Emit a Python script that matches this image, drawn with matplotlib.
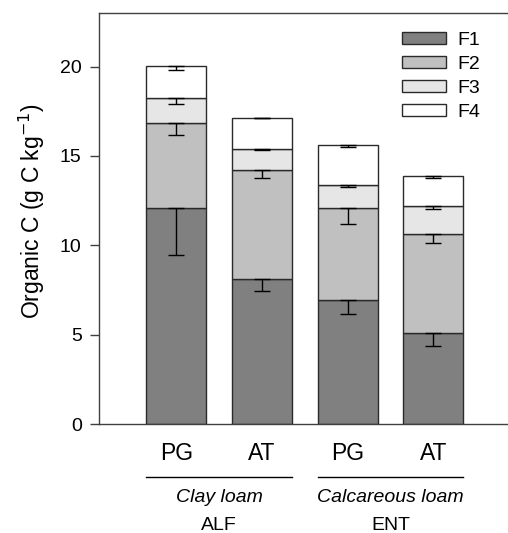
import numpy as np
import matplotlib.pyplot as plt
import matplotlib.transforms as mtransforms

plt.rcParams['font.family'] = ['Liberation Sans', 'DejaVu Sans']

# bar labels and groups
bar_labels = ["PG", "AT", "PG", "AT"]
group_names = ["Clay loam", "Calcareous loam"]
group_codes = ["ALF", "ENT"]
fractions = ["F1", "F2", "F3", "F4"]

# fraction contents (g C kg-1), one value per bar
f1 = [12.1, 8.12, 6.93, 5.12]
f2 = [4.75, 6.07, 5.17, 5.53]
f3 = [1.40, 1.21, 1.29, 1.53]
f4 = [1.77, 1.75, 2.21, 1.72]

# standard errors (drawn downward only)
f1_err = [2.65, 0.65, 0.80, 0.74]
f2_err = [0.67, 0.45, 0.93, 0.52]
f3_err = [0.34, 0.09, 0.15, 0.17]
f4_err = [0.19, 0.05, 0.11, 0.11]

colors = ["#808080", "#c0c0c0", "#e6e6e6", "#ffffff"]
edge = "#2a2a2a"

fig = plt.figure(figsize=(5.08, 5.33), dpi=100)
ax = fig.add_axes([0.195, 0.2045, 0.81, 0.7711])

x = np.arange(len(bar_labels))
width = 0.7
bottom = np.zeros(len(x))
for name, vals, errs, col in zip(fractions, [f1, f2, f3, f4],
                                 [f1_err, f2_err, f3_err, f4_err], colors):
    vals = np.array(vals)
    ax.bar(x, vals, width, bottom=bottom, color=col, edgecolor=edge,
           linewidth=1.0, label=name, zorder=2)
    top = bottom + vals
    ax.errorbar(x, top, yerr=[errs, np.zeros(len(x))], fmt="none",
                ecolor="black", elinewidth=1.0, capsize=6, capthick=1.0,
                zorder=3)
    bottom = top

ax.set_ylim(0, 23)
ax.set_xlim(-0.9, 3.9)
ax.set_yticks([0, 5, 10, 15, 20])
ax.set_xticks(x)
ax.set_xticklabels(bar_labels, fontsize=16.5)
ax.tick_params(axis="x", length=0, pad=13)
ax.tick_params(axis="y", length=6.5, width=1.0, labelsize=14, color="#404040",
               pad=6)
ax.set_ylabel("Organic C (g C kg$^{-1}$)", fontsize=16.5)
ax.yaxis.set_label_coords(-0.126, 0.517)

for s in ["left", "bottom", "top"]:
    ax.spines[s].set_color("#404040")
    ax.spines[s].set_linewidth(1.0)
ax.spines["right"].set_visible(False)

# group lines and labels under the axis
trans = mtransforms.blended_transform_factory(ax.transData, ax.transAxes)
for g, (name, code) in enumerate(zip(group_names, group_codes)):
    x0 = 2 * g - width / 2
    x1 = 2 * g + 1 + width / 2
    xc = 2 * g + 0.5
    ax.plot([x0, x1], [-0.129, -0.129], color="black", lw=1.0,
            transform=trans, clip_on=False)
    ax.text(xc, -0.18, name, style="italic", fontsize=14, ha="center",
            va="center", transform=trans)
    ax.text(xc, -0.246, code, fontsize=14, ha="center", va="center",
            transform=trans)

leg = ax.legend(loc="upper right", bbox_to_anchor=(0.97, 0.997), frameon=False,
                fontsize=14, handlelength=2.25, handleheight=0.6,
                labelspacing=0.36, handletextpad=0.6)
for p in leg.get_patches():
    p.set_linewidth(1.0)

fig.savefig("out.png", dpi=100)
